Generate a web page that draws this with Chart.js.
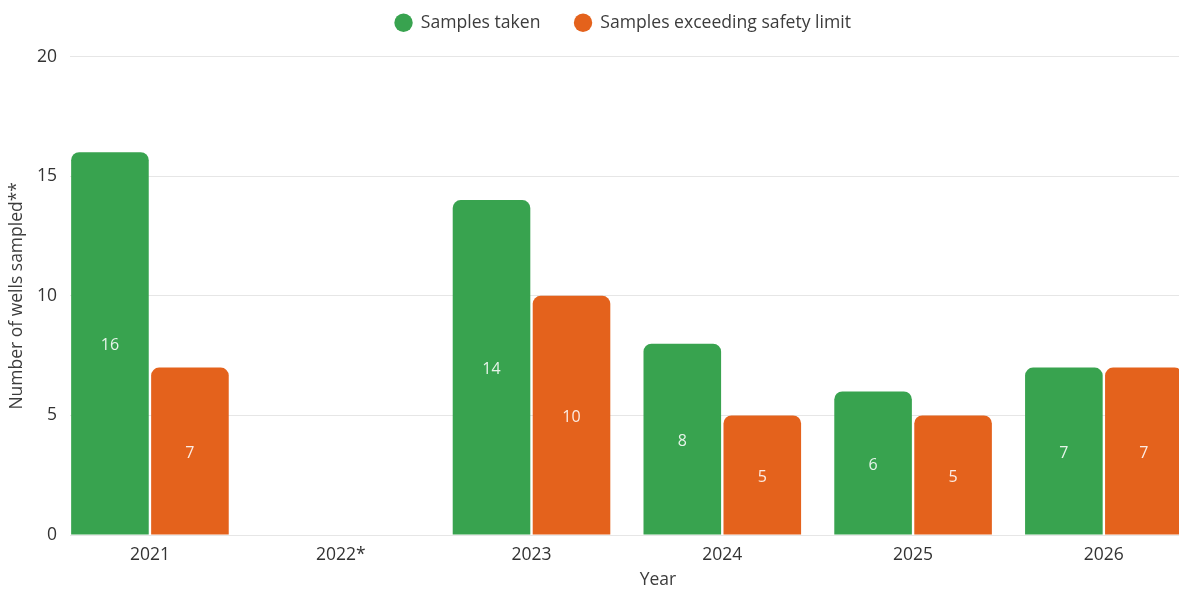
<!DOCTYPE html>
<html>
<head>
<meta charset="utf-8">
<script src="https://cdn.jsdelivr.net/npm/chart.js@4/dist/chart.umd.min.js"></script>
<style>
  html, body { margin: 0; padding: 0; background: #fff; overflow: hidden; }
  #wrap { position: relative; width: 1246px; height: 592px; }
</style>
</head>
<body>
<div id="wrap"><canvas id="c"></canvas></div>
<script>
const years = ['2021', '2022*', '2023', '2024', '2025', '2026'];
const samplesTaken = [16, null, 14, 8, 6, 7];
const samplesExceeding = [7, null, 10, 5, 5, 7];
const seriesNames = ['Samples taken', 'Samples exceeding safety limit'];
const yTicks = [0, 5, 10, 15, 20];

const GREEN = '#38a34f';
const ORANGE = '#e4621c';
const FONT = "'Open Sans', 'Noto Sans', sans-serif";

const toPoints = arr => arr.map((v, i) => ({ x: i, y: v }));

const valueLabels = {
  id: 'valueLabels',
  afterDatasetsDraw(chart) {
    const ctx = chart.ctx;
    ctx.save();
    ctx.font = '16px ' + FONT;
    ctx.fillStyle = 'rgba(255,255,255,0.88)';
    ctx.textAlign = 'center';
    ctx.textBaseline = 'middle';
    chart.data.datasets.forEach((ds, di) => {
      const meta = chart.getDatasetMeta(di);
      meta.data.forEach((el, i) => {
        const v = ds.data[i].y;
        if (v === null || v === undefined) return;
        ctx.fillText(String(v), el.x, (el.y + el.base) / 2 + 2);
      });
    });
    ctx.restore();
  }
};

new Chart(document.getElementById('c'), {
  type: 'bar',
  data: {
    datasets: [
      { label: seriesNames[0], data: toPoints(samplesTaken), backgroundColor: GREEN },
      { label: seriesNames[1], data: toPoints(samplesExceeding), backgroundColor: ORANGE }
    ]
  },
  plugins: [valueLabels],
  options: {
    responsive: true,
    maintainAspectRatio: false,
    animation: false,
    categoryPercentage: 0.8386,
    barPercentage: 0.97,
    datasets: { bar: { borderRadius: 8, borderSkipped: 'start', borderWidth: 0 } },
    layout: { padding: { top: -20, left: 0, right: 0, bottom: 0 } },
    plugins: {
      legend: {
        position: 'top',
        labels: {
          usePointStyle: true,
          pointStyle: 'circle',
          boxWidth: 17,
          boxHeight: 13,
          padding: 34,
          color: '#3c3c3c',
          font: { family: FONT, size: 17.6 }
        }
      },
      title: {
        display: true,
        text: '',
        weight: 100,
        position: 'top',
        font: { size: 10 },
        padding: { top: 0, bottom: 3 }
      },
      tooltip: { enabled: false }
    },
    scales: {
      x: {
        type: 'linear',
        min: -0.419,
        max: 5.745,
        offset: false,
        grid: { display: false, drawTicks: false },
        border: { display: false },
        ticks: {
          stepSize: 1,
          includeBounds: false,
          color: '#333',
          padding: 10,
          font: { family: FONT, size: 17.5 },
          callback: v => years[v] !== undefined ? years[v] : ''
        },
        title: {
          display: true,
          text: 'Year',
          color: '#3c3c3c',
          font: { family: FONT, size: 17.5 },
          padding: { top: 4, bottom: 1 }
        },
        afterFit: s => { s.height = 57; }
      },
      y: {
        min: 0,
        max: 20,
        grid: { color: '#e6e6e6', drawTicks: false },
        border: { display: false },
        ticks: {
          stepSize: 5,
          color: '#333',
          padding: 13,
          font: { family: FONT, size: 17.5 },
          callback: v => yTicks.includes(v) ? String(v) : ''
        },
        title: {
          display: true,
          text: 'Number of wells sampled**',
          color: '#3c3c3c',
          font: { family: FONT, size: 17.5 },
          padding: { top: 7, bottom: 0 }
        },
        afterFit: s => { s.width = 70; }
      }
    }
  }
});
</script>
</body>
</html>
